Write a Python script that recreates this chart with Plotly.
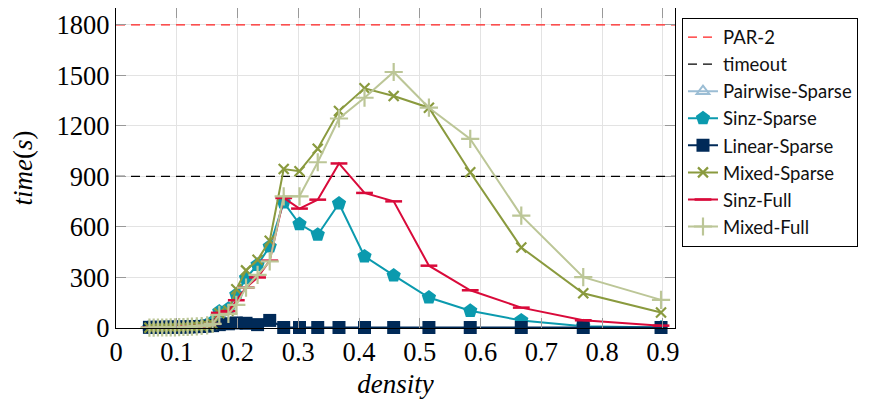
import plotly.graph_objects as go

density = [0.055, 0.062, 0.069, 0.076, 0.083, 0.090, 0.097, 0.104, 0.111, 0.118,
           0.125, 0.133, 0.141, 0.150, 0.159, 0.170, 0.185, 0.198, 0.214, 0.233,
           0.253, 0.276, 0.302, 0.332, 0.367, 0.409, 0.457, 0.515, 0.583, 0.667,
           0.769, 0.897]

pairwise_sparse = [2, 2, 3, 3, 3, 4, 4, 5, 6, 7, 8, 10, 12, 16, 24, 80]
sinz_sparse = [3, 3, 3, 4, 4, 5, 5, 6, 7, 8, 9, 11, 14, 20, 35,
               98, 114, 197, 296, 375, 484, 746, 617, 554, 739, 425, 312, 181, 102, 45, 10, 3]
linear_sparse = [4, 4, 4, 4, 5, 5, 5, 5, 6, 6, 7, 8, 9, 11, 14,
                 20, 25, 30, 28, 20, 45, 3, 3, 3, 3, 3, 3, 3, 3, 3, 3, 3]
mixed_sparse = [2, 2, 3, 3, 3, 4, 4, 5, 6, 7, 8, 10, 12, 16, 24,
                88, 102, 230, 342, 405, 518, 944, 931, 1064, 1288, 1423, 1377, 1308, 925, 478, 206, 92]
sinz_full = [2, 2, 3, 3, 3, 4, 4, 5, 6, 7, 8, 10, 12, 16, 24,
             90, 100, 165, 240, 300, 400, 772, 709, 762, 977, 802, 752, 370, 224, 121, 46, 14]
mixed_full = [2, 2, 3, 3, 3, 4, 4, 5, 6, 7, 8, 10, 12, 16, 24,
              78, 84, 137, 240, 316, 395, 782, 782, 984, 1244, 1367, 1520, 1308, 1123, 667, 302, 167]

PAR2 = 1800
TIMEOUT = 900
X_RANGE = [0, 0.92]
Y_RANGE = [0, 1900]
x_ticks = [0, 0.1, 0.2, 0.3, 0.4, 0.5, 0.6, 0.7, 0.8, 0.9]
x_tick_labels = ["0", "0.1", "0.2", "0.3", "0.4", "0.5", "0.6", "0.7", "0.8", "0.9"]
y_ticks = [0, 300, 600, 900, 1200, 1500, 1800]

fig = go.Figure()

fig.add_trace(go.Scatter(x=X_RANGE, y=[PAR2, PAR2], mode="lines", name="PAR-2",
                         line=dict(color="#ff2020", width=1.2, dash="9px,6px")))
fig.add_trace(go.Scatter(x=X_RANGE, y=[TIMEOUT, TIMEOUT], mode="lines", name="timeout",
                         line=dict(color="black", width=1.2, dash="9px,6px")))

series = [
    ("Pairwise-Sparse", pairwise_sparse, "#9bbdd4", "triangle-up-open", 11, 2),
    ("Sinz-Sparse", sinz_sparse, "#0b9aae", "pentagon", 15, 0),
    ("Linear-Sparse", linear_sparse, "#002a58", "square", 13, 0),
    ("Mixed-Sparse", mixed_sparse, "#8a9a3e", "x-thin", 10, 2.2),
    ("Sinz-Full", sinz_full, "#d90a3a", "line-ew", 12, 2.5),
    ("Mixed-Full", mixed_full, "#bcc697", "cross-thin", 13, 2.2),
]
for name, vals, color, sym, size, lw in series:
    fig.add_trace(go.Scatter(
        x=density[:len(vals)], y=vals, mode="lines+markers", name=name,
        line=dict(color=color, width=2),
        marker=dict(symbol=sym, size=size, color=color, line=dict(color=color, width=lw)),
        cliponaxis=False,
    ))

fig.update_layout(
    width=873, height=393,
    margin=dict(l=108, r=206, t=0, b=73, autoexpand=False),
    plot_bgcolor="white", paper_bgcolor="white",
    showlegend=True,
    legend=dict(x=1.0125, y=0.97, xanchor="left", yanchor="top",
                bordercolor="black", borderwidth=1, bgcolor="white",
                font=dict(family="Lato", size=18.5, color="#111"),
                entrywidth=175, entrywidthmode="pixels",
                tracegroupgap=0),
    font=dict(family="Liberation Serif", size=26, color="black"),
)
fig.update_xaxes(range=X_RANGE, tickvals=x_ticks, ticktext=x_tick_labels,
                 automargin=False,
                 showgrid=True, gridcolor="#e3e3e3", gridwidth=1,
                 showline=True, linecolor="black", linewidth=1.2, mirror="allticks",
                 ticks="inside", ticklen=10, tickcolor="#999", tickwidth=1.2,
                 zeroline=False,
                 tickfont=dict(family="Liberation Serif", size=26.5),
                 title=dict(text="<i>density</i>", font=dict(family="Liberation Serif", size=27),
                            standoff=8))
fig.update_yaxes(range=Y_RANGE, tickvals=y_ticks,
                 automargin=False,
                 showgrid=True, gridcolor="#e3e3e3", gridwidth=1,
                 showline=True, linecolor="black", linewidth=1.2, mirror="allticks",
                 ticks="inside", ticklen=10, tickcolor="#999", tickwidth=1.2,
                 zeroline=False,
                 tickfont=dict(family="Liberation Serif", size=26.5),
                 title=dict(text="<i>time</i>(<i>s</i>)", font=dict(family="Liberation Serif", size=27),
                            standoff=17))

fig.write_html("out.html")
